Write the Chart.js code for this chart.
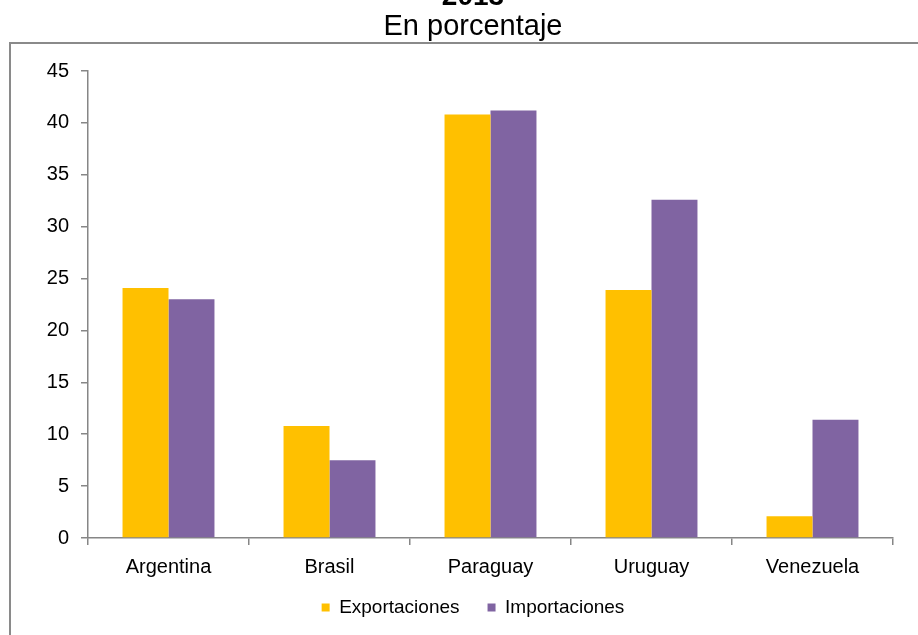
<!DOCTYPE html>
<html>
<head>
<meta charset="utf-8">
<script src="https://cdn.jsdelivr.net/npm/chart.js@4/dist/chart.umd.min.js"></script>
<style>
html,body{margin:0;padding:0;background:#fff;overflow:hidden;width:918px;height:635px;}
#wrap{position:absolute;left:0;top:-30px;width:918px;height:666px;}
</style>
</head>
<body>
<div id="wrap"><canvas id="c" width="918" height="666"></canvas></div>
<script>
const titleText = "2013";
const subtitleText = "En porcentaje";
const categories = ["Argentina", "Brasil", "Paraguay", "Uruguay", "Venezuela"];
const seriesNames = ["Exportaciones", "Importaciones"];
const exportaciones = [24.1, 10.8, 40.8, 23.9, 2.1];
const importaciones = [23.0, 7.5, 41.2, 32.6, 11.4];
const yTicks = [0, 5, 10, 15, 20, 25, 30, 35, 40, 45];

const axisColor = '#868686';
const FONT = '"Liberation Sans", Arial, sans-serif';

const framePlugin = {
  id: 'frame',
  beforeDraw(chart) {
    const ctx = chart.ctx;
    ctx.save();
    ctx.strokeStyle = '#8a8a8a';
    ctx.lineWidth = 2;
    ctx.strokeRect(10, 73, 926, 700);
    ctx.restore();
  }
};

const legendShift = {
  id: 'legendShift',
  afterLayout(chart) {
    const lg = chart.legend;
    if (lg) { lg.top -= 9; lg.bottom -= 9; }
  }
};

new Chart(document.getElementById('c'), {
  type: 'bar',
  data: {
    labels: categories,
    datasets: [
      { label: seriesNames[0], data: exportaciones, backgroundColor: '#FFC000', borderWidth: 0, yAxisID: 'y' },
      { label: seriesNames[1], data: importaciones, backgroundColor: '#8064A2', borderWidth: 0, yAxisID: 'y' }
    ]
  },
  options: {
    responsive: false,
    animation: false,
    devicePixelRatio: 1,
    layout: { padding: { left: 28, right: 0, top: 0, bottom: 0 } },
    datasets: { bar: { categoryPercentage: 0.571, barPercentage: 1.0 } },
    plugins: {
      title: {
        display: true, text: titleText, color: '#000',
        font: { family: FONT, size: 28, weight: 'bold', lineHeight: 1.0 },
        padding: { top: 13, bottom: 0 }
      },
      subtitle: {
        display: true, text: subtitleText, color: '#000',
        font: { family: FONT, size: 29, weight: 'normal', lineHeight: 1.0 },
        padding: { top: 1, bottom: 30 }
      },
      legend: {
        display: true, position: 'bottom',
        labels: {
          color: '#000', boxWidth: 8, boxHeight: 8, padding: 28,
          font: { family: FONT, size: 19 }
        }
      },
      tooltip: { enabled: false }
    },
    scales: {
      x: {
        offset: true,
        grid: { display: true, drawOnChartArea: false, drawTicks: true, tickLength: 7, color: axisColor, lineWidth: 1.5, offset: true },
        border: { display: true, color: axisColor, width: 1.5 },
        ticks: { color: '#000', padding: 10, font: { family: FONT, size: 20 } },
        afterFit(scale) { scale.height = 41; }
      },
      y: {
        position: 'left',
        min: 0, max: 45,
        afterBuildTicks(scale) { scale.ticks = yTicks.map(v => ({ value: v })); },
        grid: { display: true, drawOnChartArea: false, drawTicks: true, tickLength: 7, color: axisColor, lineWidth: 1.5 },
        border: { display: true, color: axisColor, width: 1.5 },
        ticks: { color: '#000', padding: 12, font: { family: FONT, size: 20 } },
        afterFit(scale) { scale.width = 60; }
      },
      yRight: {
        type: 'linear', position: 'right', display: true,
        grid: { display: false, drawTicks: false },
        border: { display: false },
        ticks: { display: false },
        afterFit(scale) { scale.width = 25; }
      }
    }
  },
  plugins: [framePlugin, legendShift]
});
</script>
</body>
</html>
